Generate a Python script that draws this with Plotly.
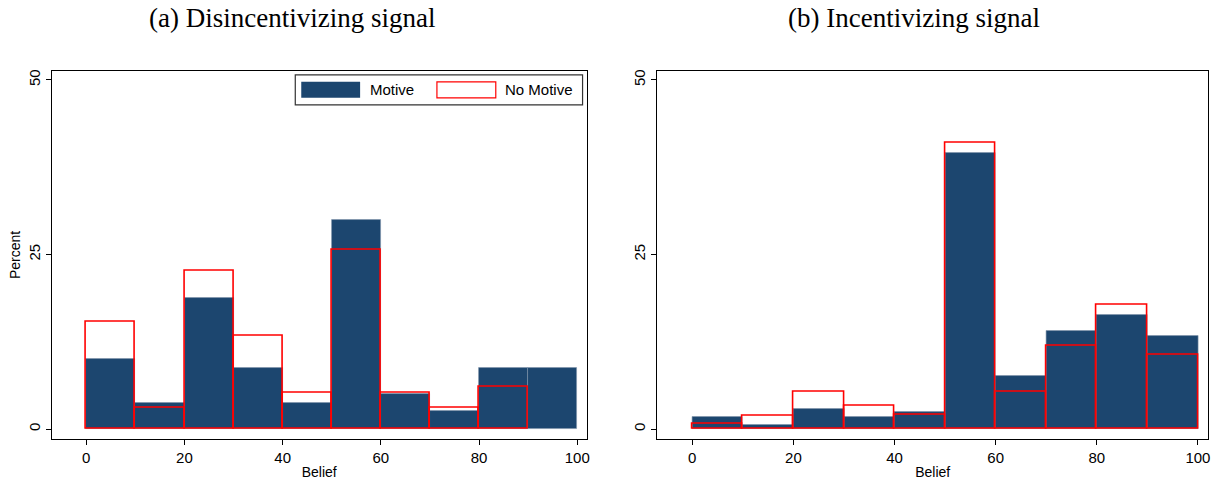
import plotly.graph_objects as go
from plotly.subplots import make_subplots

bin_starts = [0, 10, 20, 30, 40, 50, 60, 70, 80, 90]
bin_width = 10

# Panel (a) Disincentivizing signal
a_motive = [10.0, 3.8, 18.8, 8.8, 3.8, 30.0, 5.1, 2.6, 8.8, 8.8]
a_nomotive = [15.4, 3.1, 22.6, 13.4, 5.2, 25.7, 5.2, 3.1, 6.1, 0]

# Panel (b) Incentivizing signal
b_motive = [1.8, 0.6, 2.95, 1.8, 2.4, 39.6, 7.6, 14.0, 16.3, 13.4]
b_nomotive = [0.7, 1.95, 5.3, 3.3, 2.0, 41.05, 5.3, 11.9, 17.8, 10.6]

titles = ["(a) Disincentivizing signal", "(b) Incentivizing signal"]
x_ticks = [0, 20, 40, 60, 80, 100]
y_ticks = [0, 25, 50]

NAVY = "#1c466f"
RED = "#ff0000"
SANS = "Liberation Sans, Arial"

fig = make_subplots(rows=1, cols=2)

centers = [s + bin_width / 2 for s in bin_starts]

for col, (mot, nomot) in enumerate([(a_motive, a_nomotive), (b_motive, b_nomotive)], start=1):
    fig.add_trace(go.Bar(x=centers, y=mot, width=bin_width, name="Motive",
                         marker=dict(color=NAVY, line=dict(color="#7f93aa", width=0.6)),
                         showlegend=False), row=1, col=col)
    fig.add_trace(go.Bar(x=centers, y=[v if v > 0 else None for v in nomot], width=bin_width,
                         name="No Motive",
                         marker=dict(color="rgba(0,0,0,0)", line=dict(color=RED, width=1.6)),
                         showlegend=False), row=1, col=col)

W, H = 1222, 482
def px_x(p): return p / W
def px_y(p): return 1 - p / H

dom1 = [px_x(52), px_x(588)]
dom2 = [px_x(659), px_x(1211)]
ydom = [px_y(439), px_y(70)]

axis_common = dict(showline=True, linecolor="#000000", linewidth=1, mirror=True,
                   ticks="outside", ticklen=5, tickcolor="#000000", showgrid=False,
                   zeroline=False, tickfont=dict(family=SANS, size=15, color="#000"))

fig.update_xaxes(**axis_common, tickvals=x_ticks, range=[-7.0, 101.9])
fig.update_yaxes(**axis_common, tickvals=y_ticks, range=[-1.43, 51.3], tickangle=-90)
fig.update_layout(
    xaxis=dict(domain=dom1, title=dict(text="Belief", font=dict(family=SANS, size=14, color="#000"), standoff=2)),
    xaxis2=dict(domain=dom2, title=dict(text="Belief", font=dict(family=SANS, size=14, color="#000"), standoff=2), range=[-6.9, 102.0]),
    yaxis=dict(domain=ydom, title=dict(text="Percent", font=dict(family=SANS, size=14, color="#000"), standoff=1)),
    yaxis2=dict(domain=ydom),
    barmode="overlay",
    bargap=0,
    width=W, height=H,
    margin=dict(l=0, r=0, t=0, b=0),
    paper_bgcolor="white", plot_bgcolor="white",
)

# Panel titles
for i, t in enumerate(titles):
    cx = (293 if i == 0 else 916)
    fig.add_annotation(text=t, x=px_x(cx), y=1, xref="paper", yref="paper",
                       showarrow=False, xanchor="center", yanchor="top",
                       font=dict(family="Liberation Serif, DejaVu Serif, serif", size=27, color="#000"))

# Custom legend (Stata style) in panel (a)
fig.add_shape(type="rect", xref="paper", yref="paper",
              x0=px_x(296), x1=px_x(584), y0=px_y(104), y1=px_y(74),
              line=dict(color="#333", width=1.2), fillcolor="white")
fig.add_shape(type="rect", xref="paper", yref="paper",
              x0=px_x(302), x1=px_x(361), y0=px_y(97), y1=px_y(81),
              line=dict(width=0), fillcolor=NAVY)
fig.add_shape(type="rect", xref="paper", yref="paper",
              x0=px_x(438), x1=px_x(497), y0=px_y(97), y1=px_y(81),
              line=dict(color=RED, width=1.2), fillcolor="white")
fig.add_annotation(text="Motive", x=px_x(369), y=px_y(89), xref="paper", yref="paper",
                   showarrow=False, xanchor="left", yanchor="middle",
                   font=dict(family=SANS, size=15, color="#000"))
fig.add_annotation(text="No Motive", x=px_x(504), y=px_y(89), xref="paper", yref="paper",
                   showarrow=False, xanchor="left", yanchor="middle",
                   font=dict(family=SANS, size=15, color="#000"))

fig.write_html("out.html", config={"displayModeBar": False},
               post_script="document.body.style.margin='0';")
